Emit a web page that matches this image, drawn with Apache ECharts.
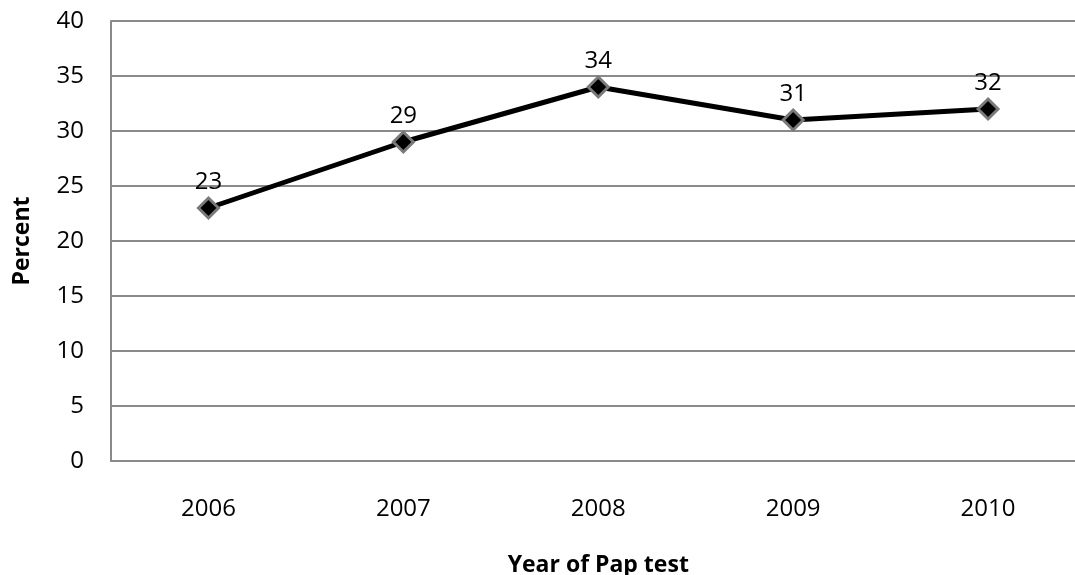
<!DOCTYPE html>
<html>
<head>
<meta charset="utf-8">
<script src="https://cdn.jsdelivr.net/npm/echarts@6/dist/echarts.min.js"></script>
<style>
  html, body { margin: 0; padding: 0; background: #fff; }
  #chart { width: 1075px; height: 575px; }
</style>
</head>
<body>
<div id="chart"></div>
<script>
// Pap test percentages by year
const years = ['2006', '2007', '2008', '2009', '2010'];
const percent = [23, 29, 34, 31, 32];
const yMin = 0, yMax = 40, yStep = 5;

const font = '"Open Sans", "Liberation Sans", sans-serif';

const chart = echarts.init(document.getElementById('chart'));
chart.setOption({
  animation: false,
  backgroundColor: '#ffffff',
  grid: {
    left: 111, right: -10.5, top: 21, bottom: 114,
    containLabel: false,
    outerBoundsMode: 'none'
  },
  xAxis: {
    type: 'category',
    data: years,
    boundaryGap: true,
    name: 'Year of Pap test',
    nameLocation: 'middle',
    nameGap: 93,
    nameTextStyle: { fontFamily: font, fontSize: 23, fontWeight: 'bold', color: '#000' },
    axisLine: { lineStyle: { color: '#8a8a8a', width: 2 } },
    axisTick: { show: false },
    axisLabel: { fontFamily: font, fontSize: 24, color: '#000', margin: 36 },
    splitLine: { show: false }
  },
  yAxis: {
    type: 'value',
    min: yMin, max: yMax, interval: yStep,
    name: 'Percent',
    nameLocation: 'middle',
    nameGap: 77,
    nameRotate: 90,
    nameTextStyle: { fontFamily: font, fontSize: 23, fontWeight: 'bold', color: '#000' },
    axisLine: { show: true, lineStyle: { color: '#8a8a8a', width: 2 } },
    axisTick: { show: false },
    axisLabel: { fontFamily: font, fontSize: 24, color: '#000', margin: 27 },
    splitLine: { show: true, lineStyle: { color: '#8a8a8a', width: 2 } }
  },
  series: [{
    type: 'line',
    data: percent,
    symbol: 'diamond',
    symbolSize: 20,
    lineStyle: { color: '#000', width: 5 },
    itemStyle: { color: '#000', borderColor: '#7a7a7a', borderWidth: 3 },
    label: {
      show: true,
      position: 'top',
      distance: 2,
      fontFamily: font,
      fontSize: 24,
      color: '#000'
    }
  }]
});
</script>
</body>
</html>
